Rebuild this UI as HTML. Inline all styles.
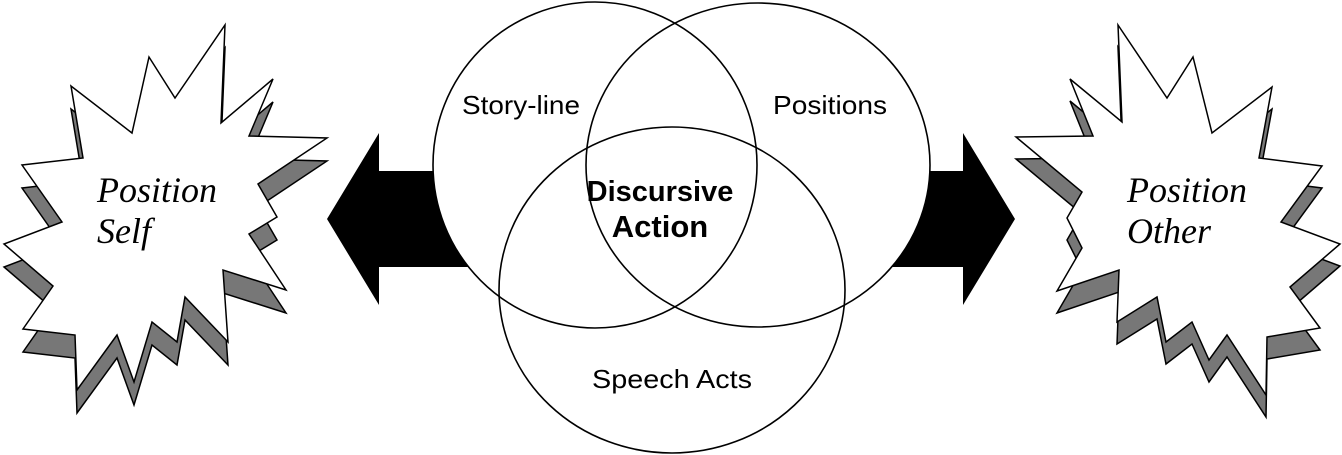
<!DOCTYPE html>
<html><head><style>html,body{margin:0;padding:0;background:#fff}svg{display:block}</style></head>
<body>
<svg width="1342" height="455" viewBox="0 0 1342 455" xmlns="http://www.w3.org/2000/svg">
<defs>
<polygon id="ls" points="225,25 221,123 273,79 249,136 327,138 258,184 277,217 249,234 286,290 223,270 228,342 185,297 177,342 152,322 134,382 117,335 77,390 75,335 23,329 53,286 4,244 62,222 22,165 83,158 71,86 132,133 149,57 175,98"/>
<polygon id="rs" points="1118,25 1167,98 1193,57 1212,133 1272,87 1259,158 1322,166 1281,222 1340,244 1290,287 1320,328 1267,337 1266,395 1227,335 1209,360 1192,322 1166,342 1157,297 1117,322 1119,270 1057,291 1082,248 1067,218 1082,192 1016,137 1093,136 1070,79 1122,122"/>
</defs>
<use href="#ls" transform="translate(0,23)" fill="#777" stroke="#000" stroke-width="1.5"/>
<use href="#ls" fill="#fff" stroke="#000" stroke-width="1.5"/>
<use href="#rs" transform="translate(0,22)" fill="#777" stroke="#000" stroke-width="1.5"/>
<use href="#rs" fill="#fff" stroke="#000" stroke-width="1.5"/>
<polygon points="327,219 379,133 379,171 520,171 520,267 379,267 379,305" fill="#000"/>
<polygon points="1015,219 963,133 963,171 820,171 820,267 963,267 963,305" fill="#000"/>
<g fill="#fff">
<ellipse cx="595" cy="165" rx="162" ry="163"/>
<ellipse cx="758" cy="165" rx="172" ry="162"/>
<ellipse cx="672" cy="290" rx="173" ry="163"/>
</g>
<g fill="none" stroke="#000" stroke-width="1.6">
<ellipse cx="595" cy="165" rx="162" ry="163"/>
<ellipse cx="758" cy="165" rx="172" ry="162"/>
<ellipse cx="672" cy="290" rx="173" ry="163"/>
</g>
<g font-family="Liberation Sans, Arial, sans-serif" font-size="26" text-anchor="middle" fill="#000">
<text x="521" y="114" textLength="118" lengthAdjust="spacingAndGlyphs">Story-line</text>
<text x="830" y="114" textLength="114" lengthAdjust="spacingAndGlyphs">Positions</text>
<text x="672" y="388" textLength="160" lengthAdjust="spacingAndGlyphs">Speech Acts</text>
<text x="660" y="201" font-weight="bold" font-size="29">Discursive</text>
<text x="660" y="237" font-weight="bold" font-size="31">Action</text>
</g>
<g font-family="Liberation Serif, Times New Roman, serif" font-style="italic" font-size="36" fill="#000">
<text x="97" y="202">Position</text>
<text x="97" y="243">Self</text>
<text x="1127" y="202">Position</text>
<text x="1127" y="243">Other</text>
</g>
</svg>
</body></html>
